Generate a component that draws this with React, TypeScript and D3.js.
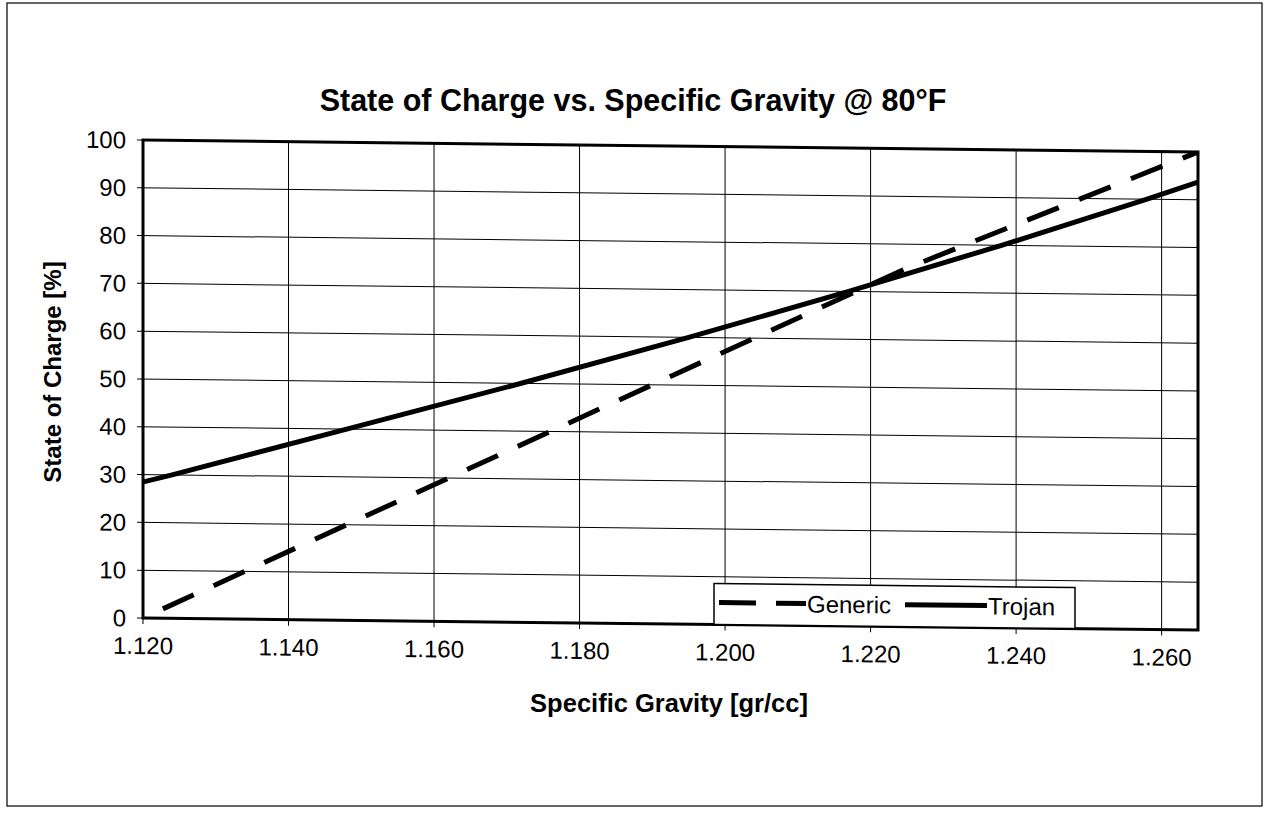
import * as d3 from "d3";

// Specific gravity vs. state of charge
const genericSG = [1.12, 1.155, 1.19, 1.225, 1.265];
const genericSOC = [0, 25, 50, 75, 100];
const trojanSG = [1.098, 1.124, 1.148, 1.172, 1.195, 1.217, 1.238, 1.258, 1.277];
const trojanSOC = [20, 30, 40, 50, 60, 70, 80, 90, 100];

const xTicks = [1.12, 1.14, 1.16, 1.18, 1.2, 1.22, 1.24, 1.26];
const yTicks = [0, 10, 20, 30, 40, 50, 60, 70, 80, 90, 100];
const seriesNames = ["Generic", "Trojan"];

const width = 1265;
const height = 816;
const left = 143;
const right = 1198;
const top = 140;
const bottom = 618;
const font = "'Liberation Sans', Arial, sans-serif";

export default function App() {
  const x = d3.scaleLinear([1.12, 1.265], [left, right]);
  const y = d3.scaleLinear([0, 100], [bottom, top]);

  const line = d3.line<[number, number]>()
    .x((d) => x(d[0]))
    .y((d) => y(d[1]));

  const generic = genericSG.map((s, i) => [s, genericSOC[i]] as [number, number]);
  const trojan = trojanSG.map((s, i) => [s, trojanSOC[i]] as [number, number]);

  // the scan is slightly tilted, so the plot block is skewed a little
  const tilt = `translate(${left},0) skewY(0.65) translate(${-left},0)`;

  return (
    <svg width={width} height={height} style={{ position: "absolute", left: 0, top: 0, background: "#fff" }}>
      <defs>
        <clipPath id="plot">
          <rect x={left} y={top} width={right - left} height={bottom - top} />
        </clipPath>
      </defs>

      {/* page / chart area border */}
      <rect x={7} y={3} width={1255} height={803} fill="none" stroke="#000" strokeWidth={1.2} />

      <text x={633} y={111} textAnchor="middle" fontFamily={font} fontWeight="bold" fontSize={30.5}>
        State of Charge vs. Specific Gravity @ 80°F
      </text>

      <text transform="translate(61,372) rotate(-90)" textAnchor="middle" fontFamily={font} fontWeight="bold" fontSize={24}>
        State of Charge [%]
      </text>

      <g transform={tilt}>
        {/* grid */}
        <g stroke="#000" strokeWidth={1}>
          {yTicks.map((t) => (
            <line key={t} x1={left - 6} x2={right} y1={y(t)} y2={y(t)} />
          ))}
          {xTicks.map((t) => (
            <line key={t} x1={x(t)} x2={x(t)} y1={top} y2={bottom + 6} />
          ))}
        </g>

        <g clipPath="url(#plot)" fill="none" stroke="#000" strokeWidth={5}>
          <path d={line(generic) ?? undefined} strokeDasharray="34 22" strokeDashoffset={34} />
          <path d={line(trojan) ?? undefined} />
        </g>

        <rect x={left} y={top} width={right - left} height={bottom - top} fill="none" stroke="#000" strokeWidth={3} />

        {/* y tick labels */}
        <g fontFamily={font} fontSize={24} textAnchor="end">
          {yTicks.map((t) => (
            <text key={t} x={126} y={y(t) + 8.5}>{t}</text>
          ))}
        </g>

        {/* x tick labels */}
        <g fontFamily={font} fontSize={24} textAnchor="middle">
          {xTicks.map((t) => (
            <text key={t} x={x(t)} y={654}>{t.toFixed(3)}</text>
          ))}
        </g>

        {/* legend */}
        <rect x={714} y={577} width={361} height={41} fill="#fff" stroke="#000" strokeWidth={1.5} />
        <line x1={719} x2={806} y1={596} y2={596} stroke="#000" strokeWidth={5} strokeDasharray="37 20" />
        <text x={807} y={605} fontFamily={font} fontSize={24}>{seriesNames[0]}</text>
        <line x1={905} x2={987} y1={596} y2={596} stroke="#000" strokeWidth={5} />
        <text x={988} y={605} fontFamily={font} fontSize={24}>{seriesNames[1]}</text>
      </g>

      <text x={669} y={712} textAnchor="middle" fontFamily={font} fontWeight="bold" fontSize={25.5}>
        Specific Gravity [gr/cc]
      </text>
    </svg>
  );
}
